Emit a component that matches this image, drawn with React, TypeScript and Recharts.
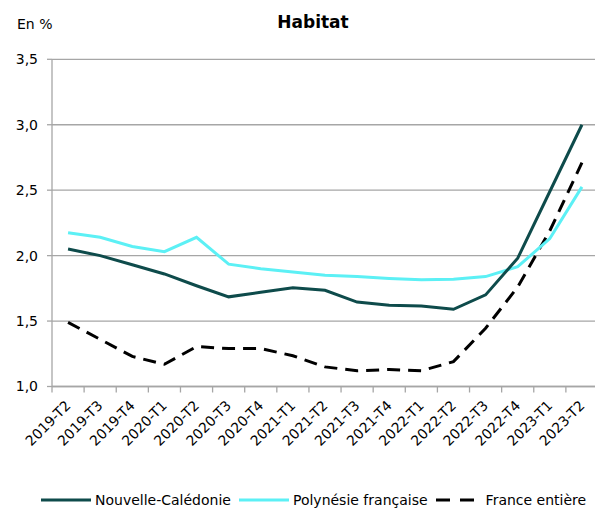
import React from "react";
import { LineChart, Line, XAxis, YAxis, CartesianGrid } from "recharts";

const categories = [
  "2019-T2", "2019-T3", "2019-T4", "2020-T1", "2020-T2", "2020-T3", "2020-T4",
  "2021-T1", "2021-T2", "2021-T3", "2021-T4", "2022-T1", "2022-T2", "2022-T3",
  "2022-T4", "2023-T1", "2023-T2",
];
const nouvelleCaledonie = [2.05, 2.0, 1.93, 1.86, 1.77, 1.685, 1.72, 1.755, 1.735, 1.645, 1.62, 1.615, 1.59, 1.7, 1.98, 2.49, 3.0];
const polynesieFrancaise = [2.175, 2.14, 2.07, 2.03, 2.14, 1.935, 1.9, 1.875, 1.85, 1.84, 1.825, 1.815, 1.82, 1.84, 1.915, 2.13, 2.525];
const franceEntiere = [1.49, 1.36, 1.23, 1.17, 1.305, 1.29, 1.29, 1.235, 1.15, 1.12, 1.13, 1.12, 1.19, 1.445, 1.76, 2.19, 2.71];
const yTicks = [1.0, 1.5, 2.0, 2.5, 3.0, 3.5];

const seriesNames = ["Nouvelle-Calédonie", "Polynésie française", "France entière"];
const COLORS = ["#0E4B4B", "#5CF0F5", "#000000"];
const DASH = "13 8";
const FONT = "'DejaVu Sans', Verdana, sans-serif";
const GRID = "#A6A6A6";

const data = categories.map((c, i) => ({
  cat: c,
  nc: nouvelleCaledonie[i],
  pf: polynesieFrancaise[i],
  fe: franceEntiere[i],
}));

const PLOT_LEFT = 52;
const PLOT_RIGHT = 598;
const STEP = (PLOT_RIGHT - PLOT_LEFT) / categories.length;

function XTick(props: any) {
  const { x, y, payload, index } = props;
  const lx = x - STEP / 2;
  const px = x + 3.5;
  const py = y + 20;
  return (
    <g>
      <line x1={lx} x2={lx} y1={y} y2={y + 6} stroke={GRID} strokeWidth={1.3} />
      {index === categories.length - 1 && (
        <line x1={x + STEP / 2} x2={x + STEP / 2} y1={y} y2={y + 6} stroke={GRID} strokeWidth={1.3} />
      )}
      <text
        x={px}
        y={py}
        transform={`rotate(-45 ${px} ${py})`}
        textAnchor="end"
        fontFamily={FONT}
        fontSize={14}
        fill="#000"
      >
        {payload.value}
      </text>
    </g>
  );
}

function LegendItem({ color, dash, label, width }: { color: string; dash?: string; label: string; width: number }) {
  return (
    <div style={{ display: "flex", alignItems: "center", marginRight: 8 }}>
      <svg width={width} height={6} style={{ display: "block" }}>
        <line x1={0} x2={width} y1={3} y2={3} stroke={color} strokeWidth={3} strokeDasharray={dash} />
      </svg>
      <span style={{ marginLeft: 4, fontFamily: FONT, fontSize: 14, whiteSpace: "nowrap", color: "#000" }}>{label}</span>
    </div>
  );
}

export default function App() {
  return (
    <div
      style={{
        position: "absolute",
        left: 0,
        top: 0,
        width: 595,
        height: 510,
        overflow: "hidden",
        background: "#fff",
      }}
    >
      <div
        style={{
          position: "absolute",
          left: 17,
          top: 16,
          fontFamily: FONT,
          fontSize: 14,
          color: "#000",
          whiteSpace: "nowrap",
        }}
      >
        En %
      </div>
      <div
        style={{
          position: "absolute",
          left: 213,
          width: 200,
          top: 12,
          textAlign: "center",
          fontFamily: FONT,
          fontSize: 17,
          fontWeight: "bold",
          color: "#000",
        }}
      >
        Habitat
      </div>
      <div style={{ position: "absolute", left: 0, top: 0 }}>
        <LineChart
          width={610}
          height={510}
          data={data}
          margin={{ top: 59.3, right: 610 - PLOT_RIGHT, bottom: 63.5, left: 0 }}
        >
          <CartesianGrid horizontal vertical={false} stroke={GRID} strokeWidth={1.3} />
          <XAxis
            dataKey="cat"
            height={60}
            padding={{ left: STEP / 2, right: STEP / 2 }}
            interval={0}
            tickLine={false}
            tickSize={0}
            tickMargin={0}
            axisLine={{ stroke: GRID, strokeWidth: 1.3 }}
            tick={<XTick />}
          />
          <YAxis
            width={PLOT_LEFT}
            domain={[1, 3.5]}
            ticks={yTicks}
            interval={0}
            tickSize={5}
            tickMargin={9}
            tickLine={{ stroke: GRID, strokeWidth: 1.3 }}
            axisLine={{ stroke: GRID, strokeWidth: 1.3 }}
            tick={{ fontFamily: FONT, fontSize: 14, fill: "#000" }}
            tickFormatter={(v: number) => v.toFixed(1).replace(".", ",")}
          />
          <Line dataKey="fe" name={seriesNames[2]} stroke={COLORS[2]} strokeWidth={3} strokeDasharray={DASH} dot={false} isAnimationActive={false} />
          <Line dataKey="pf" name={seriesNames[1]} stroke={COLORS[1]} strokeWidth={3} dot={false} isAnimationActive={false} />
          <Line dataKey="nc" name={seriesNames[0]} stroke={COLORS[0]} strokeWidth={3} dot={false} isAnimationActive={false} />
        </LineChart>
      </div>
      <div style={{ position: "absolute", left: 41, top: 492, display: "flex", alignItems: "center" }}>
        <LegendItem color={COLORS[0]} label={seriesNames[0]} width={50} />
        <LegendItem color={COLORS[1]} label={seriesNames[1]} width={50} />
        <LegendItem color={COLORS[2]} dash="14 10" label={seriesNames[2]} width={46} />
      </div>
    </div>
  );
}
